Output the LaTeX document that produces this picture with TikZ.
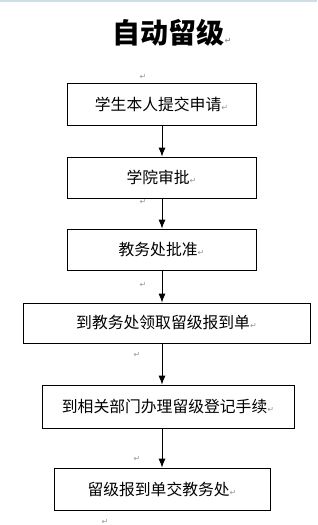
\documentclass[tikz,border=0pt]{standalone}
\usepackage{fontspec}
\newfontfamily\cjk{Noto Sans CJK SC}
\newfontfamily\symfont{DejaVu Sans}
\usetikzlibrary{arrows.meta}

\definecolor{markgray}{RGB}{150,150,150}
\definecolor{edgeblue}{RGB}{205,222,232}

\tikzset{
  stepbox/.style={draw, line width=0.8pt, inner sep=0pt,
    font=\cjk\fontsize{15.8}{16}\selectfont},
  flow/.style={-{Latex[length=9pt,width=7pt]}, line width=0.8pt},
  parmark/.style={inner sep=0pt, text=markgray,
    font=\symfont\fontsize{8}{8}\selectfont},
}
\newcommand{\pmark}{{\color{markgray}\symfont\fontsize{8}{8}\selectfont ↵}}

\begin{document}
\begin{tikzpicture}[x=1pt,y=-1pt]
  \useasboundingbox (0,0) rectangle (317,525);
  \def\xArrow{162}   % common x of the arrows

  % window edge on top
  \fill[edgeblue] (0,0) rectangle (317,1.5);

  % title
  \node[inner sep=0pt, font=\cjk\bfseries\fontsize{28}{28}\selectfont] (title) at (172,33) {自动留级\pmark};

  % the steps
  \node[stepbox, minimum width=189pt, minimum height=42pt] (apply)    at (161.5,104)   {学生本人提交申请\pmark};
  \node[stepbox, minimum width=189pt, minimum height=41pt] (college)  at (161.5,177.5) {学院审批\pmark};
  \node[stepbox, minimum width=189pt, minimum height=41pt] (approve)  at (161.5,249.5) {教务处批准\pmark};
  \node[stepbox, minimum width=287pt, minimum height=40pt] (fetch)    at (166.5,323)   {到教务处领取留级报到单\pmark};
  \node[stepbox, minimum width=252pt, minimum height=43pt] (register) at (168,406.5)   {到相关部门办理留级登记手续\pmark};
  \node[stepbox, minimum width=216pt, minimum height=42pt] (handin)   at (162,489)     {留级报到单交教务处\pmark};

  % paragraph marks between the boxes
  \node[parmark] (m1) at (143,77)  {↵};
  \node[parmark] (m2) at (143,202) {↵};
  \node[parmark] (m3) at (143,285) {↵};
  \node[parmark] (m4) at (137,355) {↵};
  \node[parmark] (m5) at (137,459) {↵};
  \node[parmark] (m6) at (105,522) {↵};

  % connectors
  \coordinate (axis) at (\xArrow,0);
  \draw[flow] (apply.south -| axis)    -- (college.north -| axis);
  \draw[flow] (college.south -| axis)  -- (approve.north -| axis);
  \draw[flow] (approve.south -| axis)  -- (fetch.north -| axis);
  \draw[flow] (fetch.south -| axis)    -- (register.north -| axis);
  \draw[flow] (register.south -| axis) -- (handin.north -| axis);

\end{tikzpicture}
\end{document}
